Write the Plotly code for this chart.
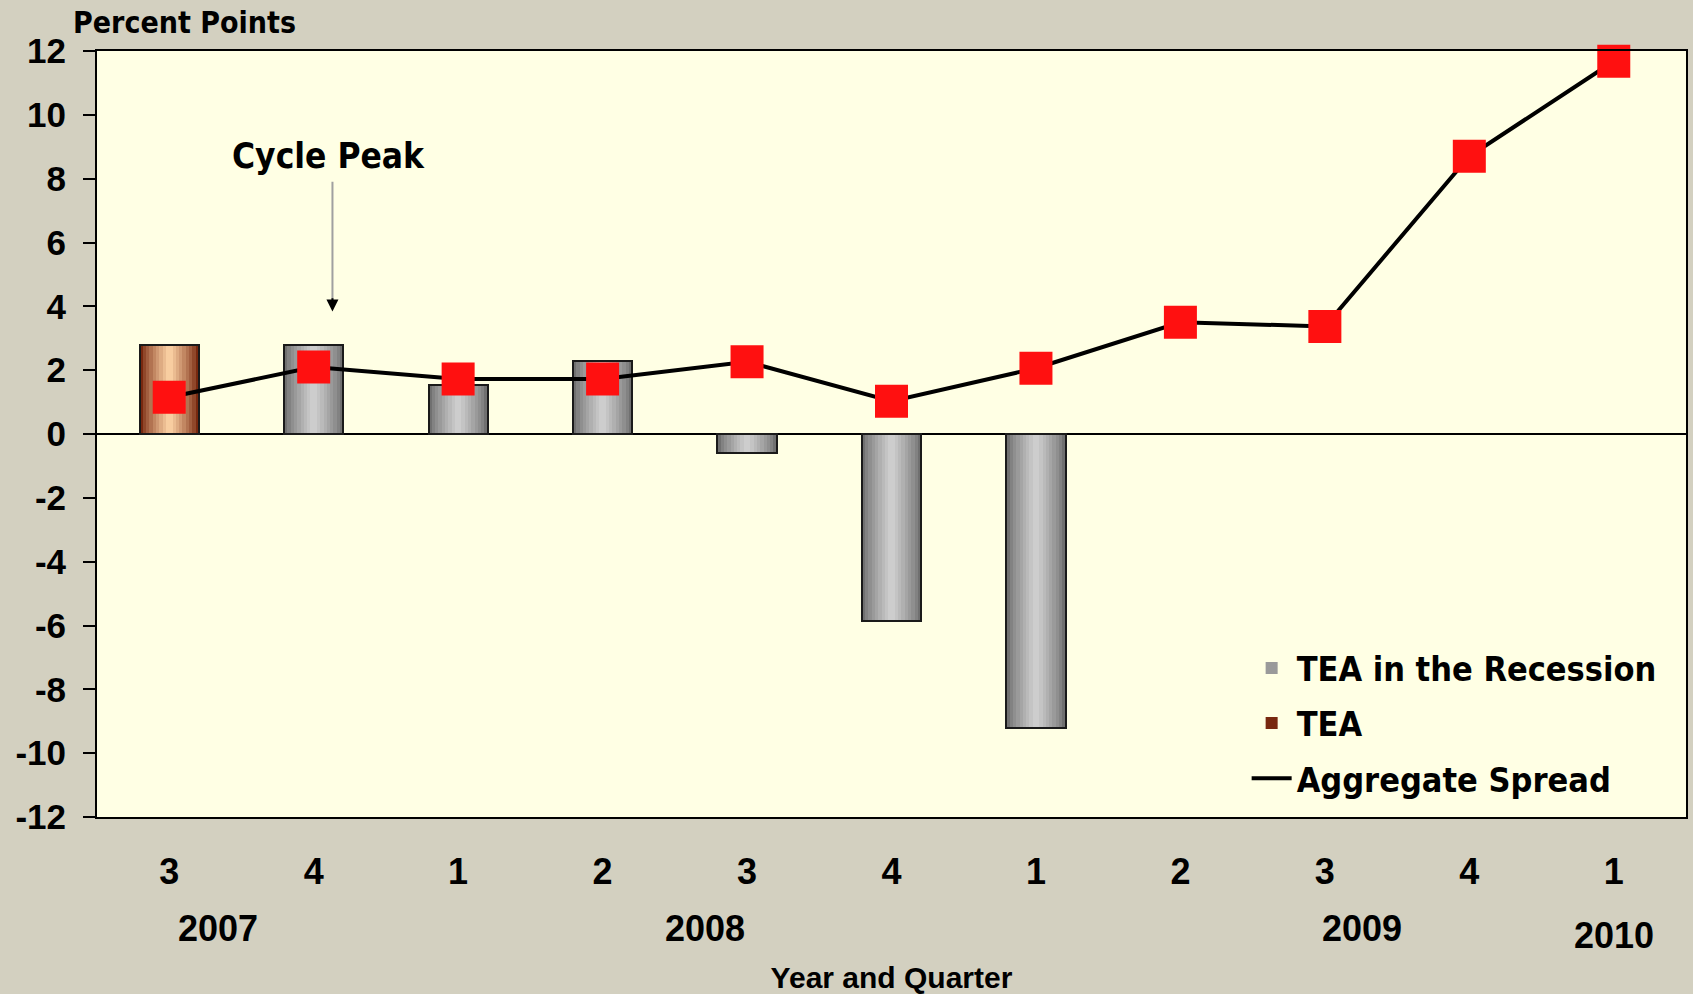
import plotly.graph_objects as go

# ---------------- data ----------------
CATEGORIES = ["2007 Q3", "2007 Q4", "2008 Q1", "2008 Q2", "2008 Q3", "2008 Q4",
              "2009 Q1", "2009 Q2", "2009 Q3", "2009 Q4", "2010 Q1"]
QUARTER_LABELS = ["3", "4", "1", "2", "3", "4", "1", "2", "3", "4", "1"]
TEA = [2.8, None, None, None, None, None, None, None, None, None, None]
TEA_RECESSION = [None, 2.8, 1.55, 2.28, -0.6, -5.85, -9.22, None, None, None, None]
AGG_SPREAD = [1.15, 2.1, 1.72, 1.72, 2.26, 1.03, 2.06, 3.5, 3.37, 8.7, 11.68]
YEAR_LABELS = ["2007", "2008", "2009", "2010"]
YEAR_POS = [0.34, 3.71, 8.26, 10.0]
Y_TICKS = list(range(-12, 13, 2))
Y_TICK_TEXT = [str(v) for v in Y_TICKS]

# ---------------- style ----------------
PAPER_BG = "#D3D0C0"
PLOT_BG = "#FFFFE4"
NUM_FONT = "Liberation Sans, Arial, sans-serif"
TXT_FONT = "DejaVu Sans Condensed, DejaVu Sans, sans-serif"
BAR_W = 0.41
N_LAYERS = 9


def mix(c1, c2, t):
    return "rgb({},{},{})".format(*[round(a + (b - a) * t) for a, b in zip(c1, c2)])


fig = go.Figure()


def cylinder(values, name, edge, centre, legend_layer):
    # same bar drawn in narrowing layers to mimic the shaded (cylinder) fill
    for k in range(N_LAYERS):
        t = (k / (N_LAYERS - 1)) ** 0.8
        fig.add_trace(go.Bar(
            x=CATEGORIES, y=values, name=name,
            width=BAR_W * (1 - k / N_LAYERS),
            marker=dict(color=mix(edge, centre, t), line=dict(width=0)),
            showlegend=(k == legend_layer), legendgroup=name,
            hoverinfo="skip" if k else None,
        ))
    fig.add_trace(go.Bar(
        x=CATEGORIES, y=values, name=name, width=BAR_W,
        marker=dict(color="rgba(0,0,0,0)", line=dict(color="#1a1a1a", width=2)),
        showlegend=False, legendgroup=name, hoverinfo="skip",
    ))


cylinder(TEA_RECESSION, "TEA in the Recession", (112, 112, 112), (205, 205, 205), 3)
cylinder(TEA, "TEA", (120, 40, 15), (248, 205, 160), 0)

# line (legend shows a plain thick line) and square markers on top
fig.add_trace(go.Scatter(
    x=CATEGORIES, y=AGG_SPREAD, name="Aggregate Spread", legendgroup="agg",
    mode="lines", line=dict(color="black", width=4),
))
fig.add_trace(go.Scatter(
    x=CATEGORIES, y=AGG_SPREAD, name="Aggregate Spread", legendgroup="agg",
    mode="markers", showlegend=False,
    marker=dict(symbol="square", size=33, color="#FF1010"),
    cliponaxis=False,
))

annotations = [
    dict(text="Percent Points", xref="paper", yref="paper", x=-0.0165, y=1.037,
         xanchor="left", yanchor="middle", showarrow=False,
         font=dict(family=TXT_FONT, size=30, color="black", weight="bold")),
    dict(text="Cycle Peak", xref="x", yref="y", x=1.1, y=8.7,
         xanchor="center", yanchor="middle", showarrow=False,
         font=dict(family=TXT_FONT, size=35, color="black", weight="bold")),
    # gray arrow shaft
    dict(text="", xref="x", yref="y", axref="x", ayref="y",
         x=1.13, y=4.2, ax=1.13, ay=7.95, showarrow=True, arrowhead=0,
         arrowwidth=2, arrowcolor="#A0A0A0"),
    # black arrow head
    dict(text="", xref="x", yref="y", axref="x", ayref="y",
         x=1.13, y=3.84, ax=1.13, ay=4.3, showarrow=True, arrowhead=2,
         arrowsize=1.2, arrowwidth=2, arrowcolor="black"),
]
for lab, pos in zip(YEAR_LABELS, YEAR_POS):
    annotations.append(dict(
        text=lab, xref="x", yref="paper", x=pos,
        y=-0.155 if lab == "2010" else -0.145,
        xanchor="center", yanchor="middle", showarrow=False,
        font=dict(family=NUM_FONT, size=36, color="black", weight="bold")))

fig.update_layout(
    width=1693, height=994,
    margin=dict(l=97, r=5, t=51, b=175),
    paper_bgcolor=PAPER_BG, plot_bgcolor=PLOT_BG,
    barmode="overlay", bargap=0,
    showlegend=True,
    legend=dict(x=0.7235, y=0.232, xanchor="left", yanchor="top",
                bgcolor="rgba(0,0,0,0)", borderwidth=0,
                traceorder="grouped", tracegroupgap=8, itemwidth=40,
                font=dict(family=TXT_FONT, size=34, color="black", weight="bold")),
    annotations=annotations,
    xaxis=dict(
        type="category", range=[-0.5, 10.5],
        tickmode="array", tickvals=CATEGORIES, ticktext=QUARTER_LABELS,
        ticks="", ticklabelstandoff=22, showgrid=False, zeroline=False,
        showline=True, linecolor="black", linewidth=2, mirror=True,
        tickfont=dict(family=NUM_FONT, size=36, color="black", weight="bold"),
        title=dict(text="Year and Quarter", standoff=76,
                   font=dict(family=NUM_FONT, size=30, color="black", weight="bold")),
    ),
    yaxis=dict(
        range=[-12, 12], tickmode="array", tickvals=Y_TICKS, ticktext=Y_TICK_TEXT,
        ticks="outside", ticklen=12, tickwidth=2, tickcolor="black",
        ticklabelstandoff=10,
        showgrid=False, zeroline=True, zerolinecolor="black", zerolinewidth=2,
        showline=True, linecolor="black", linewidth=2, mirror=True,
        tickfont=dict(family=NUM_FONT, size=35, color="black", weight="bold"),
    ),
)

fig.write_html("out.html",
               config={"displayModeBar": False},
               post_script="document.body.style.margin='0';"
                           "document.body.style.overflow='hidden';")
